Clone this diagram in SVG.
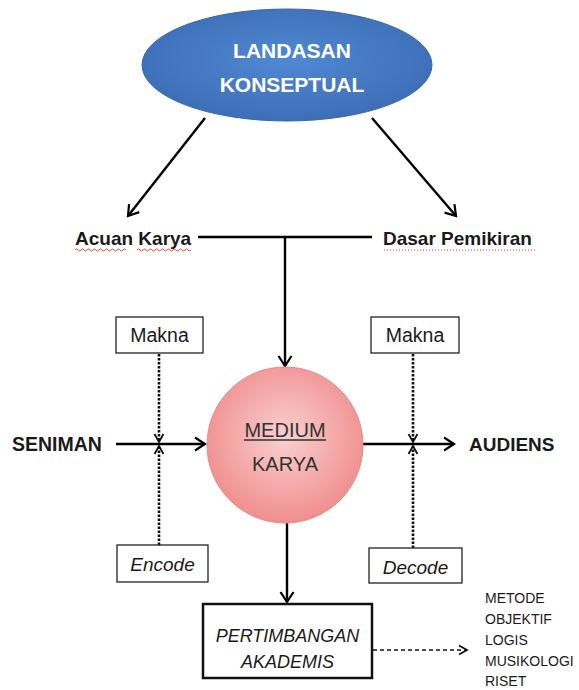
<svg xmlns="http://www.w3.org/2000/svg" width="579" height="690" viewBox="0 0 579 690">
<style>
.lbl{font-family:"Liberation Sans",Arial,sans-serif;fill:#1a1a1a}
.b{font-weight:bold}
.it{font-style:italic}
.ln{fill:none;stroke:#000;stroke-width:2.4}
.dot{fill:none;stroke:#111;stroke-width:2.6;stroke-dasharray:2.5 1.5}
.box{fill:#fff;stroke:#222;stroke-width:1.3}
</style>
<defs>
<marker id="ah" markerWidth="16" markerHeight="16" refX="13" refY="8" orient="auto" markerUnits="userSpaceOnUse">
<path d="M3,1.5 L13,8 L3,14.5" fill="none" stroke="#000" stroke-width="2.2"/>
</marker>
<marker id="ahs" markerWidth="12" markerHeight="12" refX="10" refY="6" orient="auto" markerUnits="userSpaceOnUse">
<path d="M2,1.5 L10,6 L2,10.5" fill="none" stroke="#111" stroke-width="1.8"/>
</marker>
<radialGradient id="gBlue" cx="50%" cy="45%" r="60%">
<stop offset="0" stop-color="#5089D3"/>
<stop offset="1" stop-color="#3B6CB4"/>
</radialGradient>
<radialGradient id="gPink" cx="50%" cy="45%" r="55%">
<stop offset="0" stop-color="#FAD0D0"/>
<stop offset="1" stop-color="#F18E8E"/>
</radialGradient>
</defs>

<g id="connectors">
<line class="ln" x1="205" y1="118" x2="128" y2="216" marker-end="url(#ah)"/>
<line class="ln" x1="372" y1="118" x2="456" y2="216" marker-end="url(#ah)"/>
<line class="ln" x1="198" y1="237" x2="372" y2="237"/>
<line class="ln" x1="285" y1="237" x2="285" y2="366" marker-end="url(#ah)"/>
<line class="ln" x1="116" y1="444" x2="205" y2="444" marker-end="url(#ah)"/>
<line class="ln" x1="363" y1="444" x2="454" y2="444" marker-end="url(#ah)"/>
<line class="ln" x1="287" y1="523" x2="287" y2="602" marker-end="url(#ah)"/>
<line class="dot" x1="159" y1="354" x2="159" y2="442" marker-end="url(#ahs)"/>
<line class="dot" x1="159" y1="545" x2="159" y2="446" marker-end="url(#ahs)"/>
<line class="dot" x1="413" y1="354" x2="413" y2="442" marker-end="url(#ahs)"/>
<line class="dot" x1="413" y1="548" x2="413" y2="446" marker-end="url(#ahs)"/>
<line x1="373" y1="650" x2="467" y2="650" stroke="#111" stroke-width="1.3" stroke-dasharray="4 3" marker-end="url(#ahs)"/>
</g>

<g id="landasan">
<ellipse cx="287" cy="65" rx="145" ry="56" fill="url(#gBlue)" stroke="#3A67A8" stroke-width="1"/>
<text class="lbl b" x="292" y="58" text-anchor="middle" font-size="21" style="fill:#fff">LANDASAN</text>
<text class="lbl b" x="292" y="92" text-anchor="middle" font-size="21" style="fill:#fff">KONSEPTUAL</text>
</g>

<g id="acuan">
<text class="lbl b" x="75" y="245" font-size="19">Acuan Karya</text>
<path d="M75,250 q1.5,-2 3,0 t3,0 t3,0 t3,0 t3,0 t3,0 t3,0 t3,0 t3,0 t3,0 t3,0 t3,0 t3,0 t3,0 t3,0 t3,0 t3,0 M137,250 q1.5,-2 3,0 t3,0 t3,0 t3,0 t3,0 t3,0 t3,0 t3,0 t3,0 t3,0 t3,0 t3,0 t3,0 t3,0 t3,0 t3,0 t3,0 t3,0" fill="none" stroke="#e03030" stroke-width="0.9"/>
</g>

<g id="dasar">
<text class="lbl b" x="383" y="245" font-size="19">Dasar Pemikiran</text>
<line x1="384" y1="250" x2="535" y2="250" stroke="#e03030" stroke-width="1" stroke-dasharray="1 2"/>
</g>

<g id="medium">
<circle cx="285" cy="445" r="78" fill="url(#gPink)" stroke="#E08A8A" stroke-width="1"/>
<text class="lbl" x="285" y="437" text-anchor="middle" font-size="20" style="fill:#333">MEDIUM</text>
<line x1="244" y1="440" x2="326" y2="440" stroke="#333" stroke-width="1.3"/>
<text class="lbl" x="285" y="471" text-anchor="middle" font-size="20" style="fill:#333">KARYA</text>
</g>

<g id="seniman">
<text class="lbl b" x="12" y="451" font-size="19.5">SENIMAN</text>
</g>

<g id="audiens">
<text class="lbl b" x="469" y="451" font-size="19">AUDIENS</text>
</g>

<g id="makna-left">
<rect class="box" x="116" y="317" width="87" height="36"/>
<text class="lbl" x="159.5" y="342" text-anchor="middle" font-size="19.5">Makna</text>
</g>

<g id="makna-right">
<rect class="box" x="371" y="317" width="88" height="36"/>
<text class="lbl" x="415" y="342" text-anchor="middle" font-size="19.5">Makna</text>
</g>

<g id="encode">
<rect class="box" x="117" y="545" width="91" height="37"/>
<text class="lbl it" x="162.5" y="571" text-anchor="middle" font-size="19">Encode</text>
</g>

<g id="decode">
<rect class="box" x="369" y="548" width="93" height="35"/>
<text class="lbl it" x="415.5" y="574" text-anchor="middle" font-size="19">Decode</text>
</g>

<g id="pertimbangan">
<rect x="203" y="604" width="169" height="74" fill="#fff" stroke="#111" stroke-width="2.5"/>
<text class="lbl it" x="287.5" y="642" text-anchor="middle" font-size="18">PERTIMBANGAN</text>
<text class="lbl it" x="287.5" y="668" text-anchor="middle" font-size="18">AKADEMIS</text>
</g>

<g id="kriteria">
<text class="lbl" x="485" y="603" font-size="14">METODE</text>
<text class="lbl" x="485" y="624" font-size="14">OBJEKTIF</text>
<text class="lbl" x="485" y="645" font-size="14">LOGIS</text>
<text class="lbl" x="485" y="666" font-size="14">MUSIKOLOGI</text>
<text class="lbl" x="485" y="686" font-size="14">RISET</text>
</g>
</svg>
